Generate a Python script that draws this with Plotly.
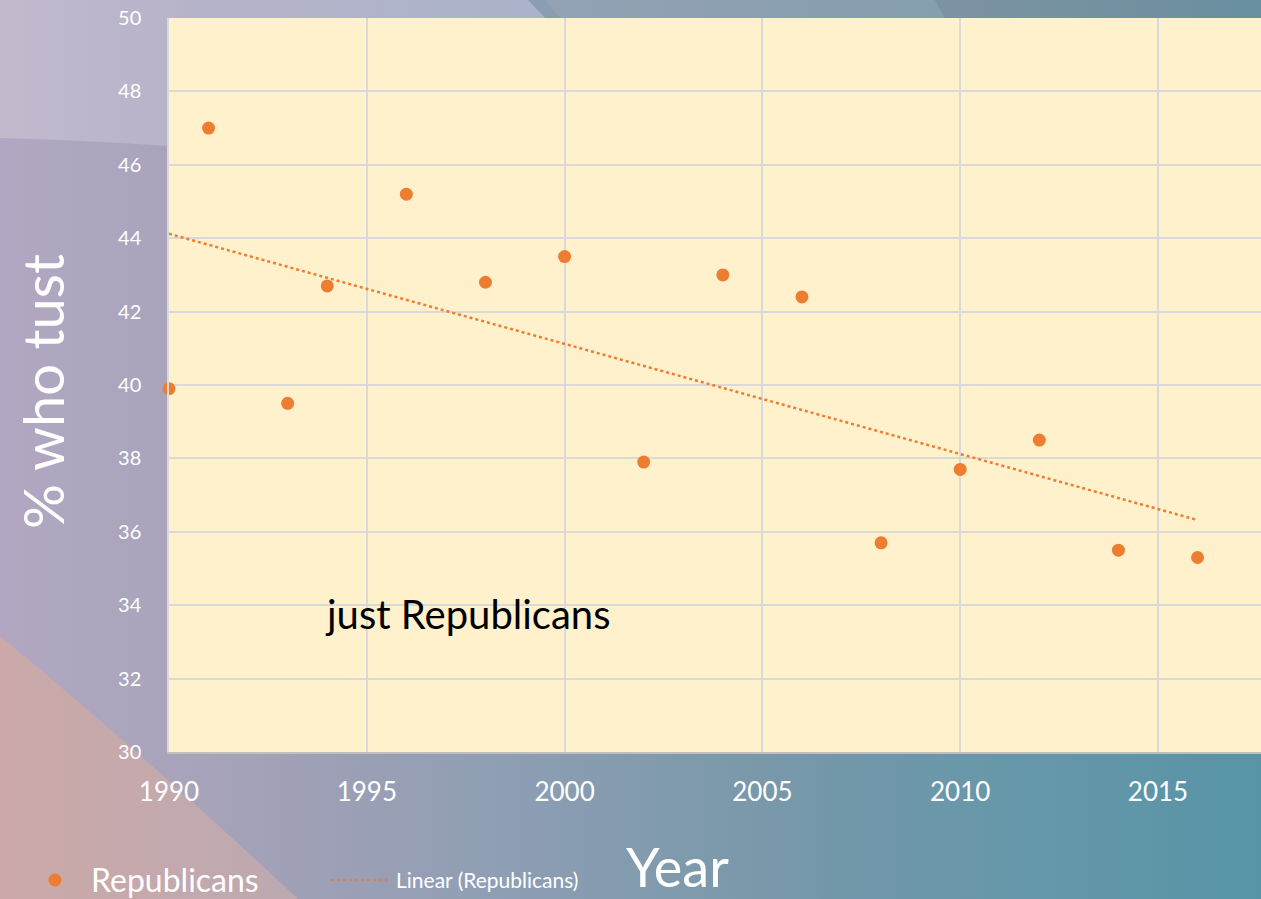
import base64
import numpy as np
import plotly.graph_objects as go

# Survey years and share of Republicans who trust (percent)
years = [1990, 1991, 1993, 1994, 1996, 1998, 2000, 2002, 2004, 2006, 2008, 2010, 2012, 2014, 2016]
trust_pct = [39.9, 47.0, 39.5, 42.7, 45.2, 42.8, 43.5, 37.9, 43.0, 42.4, 35.7, 37.7, 38.5, 35.5, 35.3]

x_ticks = [1990, 1995, 2000, 2005, 2010, 2015]
y_ticks = list(range(30, 52, 2))

# Least-squares linear trend over the observed years
slope, intercept = np.polyfit(years, trust_pct, 1)
trend_x = [years[0], years[-1]]
trend_y = [slope * x + intercept for x in trend_x]

W, H = 1261, 899
L, R, T, B = 169, 0, 18, 147
PW, PH = W - L - R, H - T - B

ORANGE = "#ED7D31"
FONT = "Lato"

# Slide-style gradient backdrop
svg = f"""<svg xmlns="http://www.w3.org/2000/svg" width="{W}" height="{H}" viewBox="0 0 {W} {H}" preserveAspectRatio="none">
<defs>
<linearGradient id="g" x1="0" y1="0" x2="1" y2="0">
<stop offset="0" stop-color="#b2a7c2"/>
<stop offset="0.13" stop-color="#a9a4bc"/>
<stop offset="0.25" stop-color="#9ea0b6"/>
<stop offset="0.4" stop-color="#8e9eb4"/>
<stop offset="0.55" stop-color="#7e9aac"/>
<stop offset="0.68" stop-color="#7197a9"/>
<stop offset="0.8" stop-color="#6698aa"/>
<stop offset="1" stop-color="#5893a6"/>
</linearGradient>
<linearGradient id="lt" x1="0" y1="0" x2="1" y2="0">
<stop offset="0" stop-color="#c3b9cd"/>
<stop offset="0.35" stop-color="#b6b3c9"/>
<stop offset="1" stop-color="#a9b3cb"/>
</linearGradient>
<linearGradient id="tr" x1="0" y1="0" x2="1" y2="0">
<stop offset="0" stop-color="#7d93a3"/>
<stop offset="1" stop-color="#698fa0"/>
</linearGradient>
<linearGradient id="pk" x1="0" y1="0" x2="1" y2="0">
<stop offset="0" stop-color="#cca9a8"/>
<stop offset="1" stop-color="#bca9b1"/>
</linearGradient>
</defs>
<rect x="0" y="0" width="{W}" height="{H}" fill="url(#g)"/>
<path d="M0,0 L528,0 L545,18 L169,18 L169,146 Q80,140 0,138 Z" fill="url(#lt)"/>
<path d="M545,0 L935,0 L945,18 L560,18 Z" fill="#9aa6b6" opacity="0.55"/>
<path d="M935,0 L{W},0 L{W},18 L945,18 Z" fill="url(#tr)"/>
<path d="M0,636 Q150,760 298,{H} L0,{H} Z" fill="url(#pk)"/>
</svg>"""
bg_uri = "data:image/svg+xml;base64," + base64.b64encode(svg.encode()).decode()


def px_x(p):
    return (p - L) / PW


def px_y(p):
    return (H - B - p) / PH


fig = go.Figure()

fig.add_trace(go.Scatter(
    x=trend_x, y=trend_y, mode="lines",
    line=dict(color=ORANGE, width=2.5, dash="dot"),
    name="Linear (Republicans)", showlegend=False, hoverinfo="skip",
))
fig.add_trace(go.Scatter(
    x=years, y=trust_pct, mode="markers",
    marker=dict(color=ORANGE, size=13, line=dict(width=0)),
    name="Republicans", showlegend=False, cliponaxis=False,
))

shapes = [
    # plot area fill
    dict(type="rect", xref="paper", yref="paper", x0=0, x1=1, y0=0, y1=1,
         fillcolor="#fff1cc", line=dict(width=0), layer="below"),
    # legend keys
    dict(type="circle", xref="paper", yref="paper", xsizemode="pixel", ysizemode="pixel",
         xanchor=px_x(55), yanchor=px_y(880), x0=-6.5, x1=6.5, y0=-6.5, y1=6.5,
         fillcolor=ORANGE, line=dict(width=0)),
    dict(type="line", xref="paper", yref="paper", x0=px_x(331), x1=px_x(388),
         y0=px_y(880), y1=px_y(880), line=dict(color=ORANGE, width=2.5, dash="dot")),
]

annotations = [
    dict(text="just Republicans", x=1993.9, y=33.75, xref="x", yref="y",
         xanchor="left", yanchor="middle", showarrow=False,
         font=dict(family=FONT, size=40, color="#000000")),
    dict(text="% who tust", x=px_x(42), y=px_y(392), xref="paper", yref="paper",
         xanchor="center", yanchor="middle", textangle=-90, showarrow=False,
         font=dict(family=FONT, size=56, color="#ffffff")),
    dict(text="Year", x=px_x(677), y=px_y(866), xref="paper", yref="paper",
         xanchor="center", yanchor="middle", showarrow=False,
         font=dict(family=FONT, size=54, color="#ffffff")),
    dict(text="Republicans", x=px_x(89), y=px_y(879), xref="paper", yref="paper",
         xanchor="left", yanchor="middle", showarrow=False,
         font=dict(family=FONT, size=32, color="#ffffff")),
    dict(text="Linear (Republicans)", x=px_x(394), y=px_y(880), xref="paper", yref="paper",
         xanchor="left", yanchor="middle", showarrow=False,
         font=dict(family=FONT, size=21, color="#ffffff")),
]

fig.update_layout(
    width=W, height=H,
    margin=dict(l=L, r=R, t=T, b=B, pad=0),
    paper_bgcolor="#9ea0b6",
    plot_bgcolor="rgba(0,0,0,0)",
    showlegend=False,
    images=[dict(source=bg_uri, xref="paper", yref="paper",
                 x=px_x(0), y=px_y(0), sizex=W / PW, sizey=H / PH,
                 xanchor="left", yanchor="top", sizing="stretch", layer="below")],
    shapes=shapes,
    annotations=annotations,
    xaxis=dict(
        range=[1990, 1990 + PW / (989 / 25)], tickvals=x_ticks,
        showgrid=True, gridcolor="#d9d9d9", gridwidth=1.5,
        showline=True, linecolor="#bfbfbf", linewidth=2,
        ticks="", ticklabelstandoff=16, zeroline=False,
        tickfont=dict(family=FONT, size=26, color="#ffffff"),
    ),
    yaxis=dict(
        range=[30, 50], tickvals=y_ticks,
        showgrid=True, gridcolor="#d9d9d9", gridwidth=1.5,
        showline=True, linecolor="#d9d9d9", linewidth=1.5,
        ticks="", ticklabelstandoff=22, zeroline=False,
        tickfont=dict(family=FONT, size=20, color="#ffffff"),
    ),
)

fig.write_html("out.html")
